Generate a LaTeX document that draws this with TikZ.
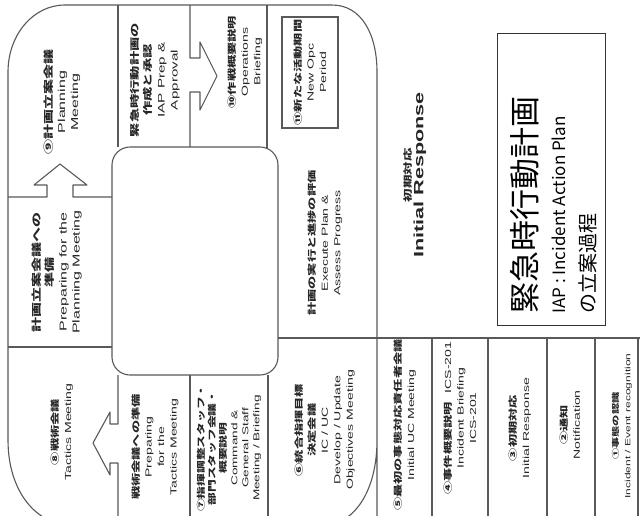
\documentclass[tikz,border=0pt]{standalone}
\usepackage{fontspec}
\newfontfamily\jpb{Noto Sans CJK JP}[FakeStretch=1.5]
\newfontfamily\jpr{Noto Sans CJK JP}
\newfontfamily\enf{Liberation Sans}[FakeStretch=1.6]
\newcommand\J[1]{{\jpb\bfseries #1}}
\newcommand\E[1]{{\enf #1}}
\definecolor{txt}{gray}{0.15}
\definecolor{lin}{gray}{0.35}
\tikzset{
  ln/.style={draw=lin, line width=1.1pt, line join=round},
  cell/.style={rotate=90, align=center, text=txt, inner sep=0pt, font=\fontsize{8.8}{12.5}\selectfont},
  big/.style={cell, font=\fontsize{9.5}{13}\selectfont},
  boxtxt/.style={rotate=90, anchor=base west, inner sep=0pt, text=black},
}
\begin{document}
\begin{tikzpicture}[x=1pt,y=-1pt]
\useasboundingbox (0,0) rectangle (640,515);
\fill[white] (0,0) rectangle (640,515);
\begin{scope}
\clip (0,0) rectangle (640,515);
% outer loop of the P
\draw[ln] (377,526) -- (377,72) .. controls (377,35) and (362,5) .. (332,5) -- (65,5)
  .. controls (33,5) and (8,35) .. (8,72) -- (8,440) .. controls (8,490) and (35,526) .. (75,526)
  -- (320,526) .. controls (355,526) and (377,490) .. (377,440);
% inner rounded rectangle
\draw[ln, rounded corners=18pt] (112,147) rectangle (278,375);
% internal dividers and arrows
\draw[ln] (118,5) -- (118,147);
\draw[ln] (190,5) -- (190,58) -- (200,58) -- (200,42) -- (217,76) -- (200,110) -- (200,92) -- (190,92) -- (190,147);
\draw[ln] (267,5) -- (267,148);
\draw[ln] (8,197) -- (47,197) -- (47,185) -- (34,185) -- (60,164) -- (87,185) -- (73,185) -- (73,197) -- (112,197);
\draw[ln] (8,347) -- (112,347);
\draw[ln] (118,375) -- (118,424) -- (110,424) -- (110,412) -- (93,443) -- (110,475) -- (110,463) -- (118,463) -- (118,526);
\draw[ln] (190,375) -- (190,526);
\draw[ln] (268,375) -- (268,526);
\draw[ln] (278,338) -- (640,338);
\foreach \x in {432,488,547,595,638} \draw[ln] (\x,338) -- (\x,526);
\end{scope}

% cell texts
\node[big, font=\fontsize{10}{13}\selectfont] (pm) at (62,102) {\J{⑨計画立案会議}\\\E{Planning}\\\E{Meeting}};
\node[big] (iap) at (155,80) {\J{緊急時行動計画の}\\\J{作成と承認}\\\E{IAP Prep \&}\\\E{Approval}};
\node[cell] (ob) at (245,62) {\J{⑩作戦概要説明}\\\E{Operations}\\\E{Briefing}};
\node[cell, draw=lin, line width=1.1pt, minimum width=111pt, minimum height=56pt] (nop) at (310,72.5)
  {\J{⑪新たな活動期間}\\\E{New Opc}\\\E{Period}};
\node[cell] (ex) at (325,243) {\J{計画の実行と進捗の評価}\\\E{Execute Plan \&}\\\E{Assess Progress}};
\node[big, font=\fontsize{10}{13}\selectfont] (ppm) at (57,272) {\J{計画立案会議への}\\\J{準備}\\\E{Preparing for the}\\\E{Planning Meeting}};
\node[cell] (tm) at (62,432) {\J{⑧戦術会議}\\\E{Tactics Meeting}};
\node[cell] (ptm) at (155,447) {\J{戦術会議への準備}\\\E{Preparing}\\\E{for the}\\\E{Tactics Meeting}};
\node[cell, font=\fontsize{8.5}{11}\selectfont] (cgs) at (229,448) {\J{⑦指揮調整スタッフ・}\\\J{部門スタッフ会議・}\\\J{概要説明}\\\E{Command \&}\\\E{General Staff}\\\E{Meeting / Briefing}};
\node[cell] (obj) at (325,430) {\J{⑥統合指揮目標}\\\J{決定会議}\\\E{IC / UC}\\\E{Develop / Update}\\\E{Objectives Meeting}};
\node[cell] (iuc) at (405,425) {\J{⑤最初の事態対応責任者会議}\\\E{Initial UC Meeting}};
\node[cell] (ib) at (460,418) {\J{④事件概要説明}\quad\E{ICS-201}\\\E{Incident Briefing}\\\E{ICS-201}};
\node[cell] (ir) at (520,428) {\J{③初期対応}\\\E{Initial Response}};
\node[cell] (nt) at (570,425) {\J{②通知}\\\E{Notification}};
\node[cell, font=\fontsize{7.5}{12}\selectfont] (ev) at (622,426) {\J{①事態の認識}\\\E{Incident / Event recognition}};

% Initial Response label
\node[rotate=90, align=center, text=txt, inner sep=0pt] (irl) at (415,175)
  {{\fontsize{9}{13}\selectfont\J{初期対応}}\\{\fontsize{13.5}{16}\selectfont\enf\bfseries Initial Response}};

% title box
\draw[draw=black!80, line width=0.8pt] (497,33) rectangle (605,325);
\node[boxtxt, font=\fontsize{31}{31}\selectfont\jpr] (t1) at (536,314) {緊急時行動計画};
\node[boxtxt, font=\fontsize{17}{17}\selectfont\jpr] (t2) at (565,314) {IAP : Incident Action Plan};
\node[boxtxt, font=\fontsize{20}{20}\selectfont\jpr] (t3) at (595,314) {の立案過程};
\end{tikzpicture}
\end{document}
